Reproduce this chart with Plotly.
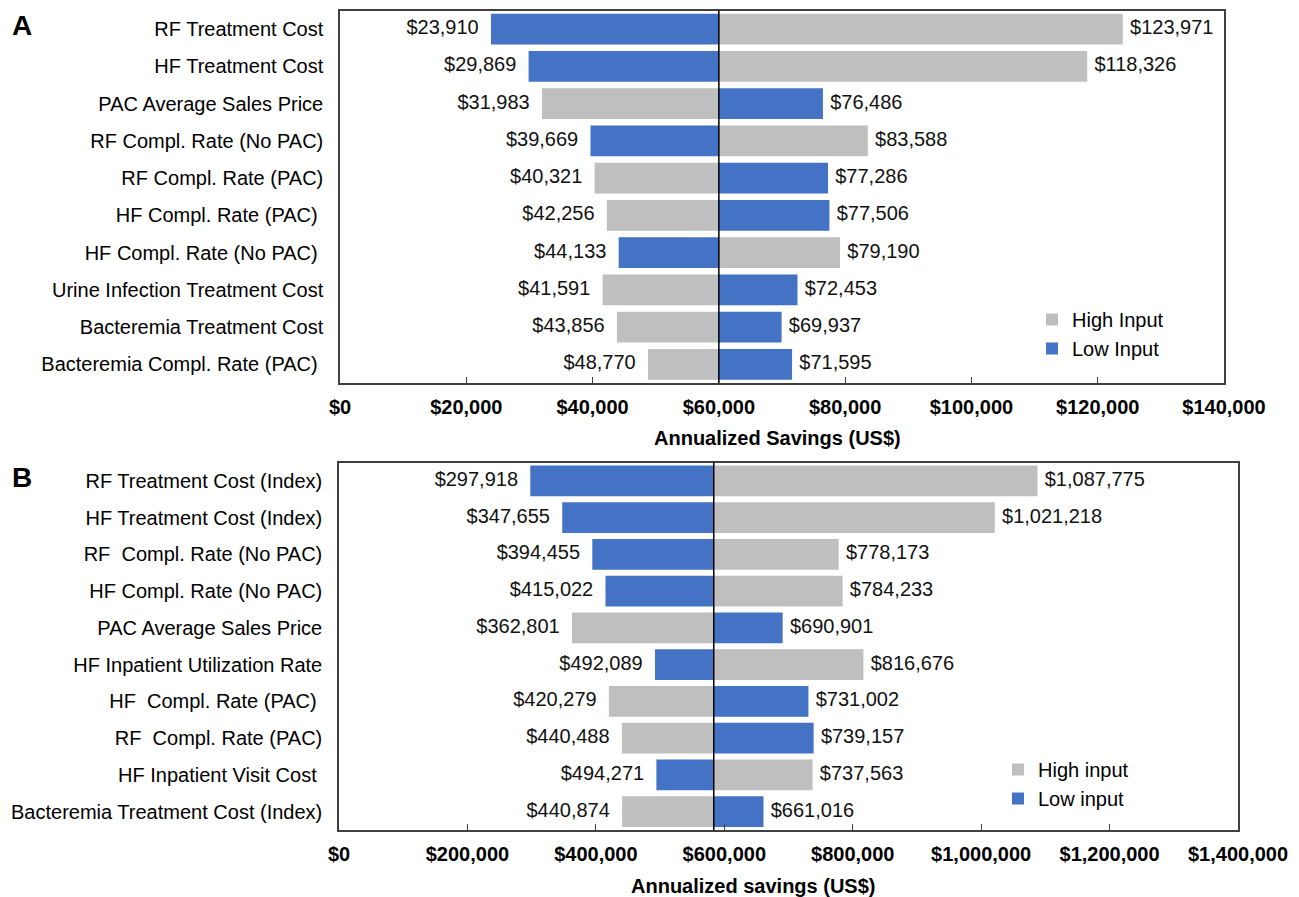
import plotly.graph_objects as go

# ---------------- Data ----------------
a_categories = ["RF Treatment Cost", "HF Treatment Cost", "PAC Average Sales Price",
                "RF Compl. Rate (No PAC)", "RF Compl. Rate (PAC)", "HF Compl. Rate (PAC) ",
                "HF Compl. Rate (No PAC) ", "Urine Infection Treatment Cost",
                "Bacteremia Treatment Cost", "Bacteremia Compl. Rate (PAC) "]
a_left = [23910, 29869, 31983, 39669, 40321, 42256, 44133, 41591, 43856, 48770]
a_right = [123971, 118326, 76486, 83588, 77286, 77506, 79190, 72453, 69937, 71595]
a_left_is_low = [True, True, False, True, False, False, True, False, False, False]
a_base = 60000

b_categories = ["RF Treatment Cost (Index)", "HF Treatment Cost (Index)", "RF  Compl. Rate (No PAC)",
                "HF Compl. Rate (No PAC)", "PAC Average Sales Price", "HF Inpatient Utilization Rate",
                "HF  Compl. Rate (PAC) ", "RF  Compl. Rate (PAC)", "HF Inpatient Visit Cost ",
                "Bacteremia Treatment Cost (Index)"]
b_left = [297918, 347655, 394455, 415022, 362801, 492089, 420279, 440488, 494271, 440874]
b_right = [1087775, 1021218, 778173, 784233, 690901, 816676, 731002, 739157, 737563, 661016]
b_left_is_low = [True, True, True, True, False, True, False, False, True, False]
b_base = 583600

a_ticks = [0, 20000, 40000, 60000, 80000, 100000, 120000, 140000]
b_ticks = [0, 200000, 400000, 600000, 800000, 1000000, 1200000, 1400000]

# ---------------- Style ----------------
W, H = 1299, 897
BLUE = "#4472C4"
GRAY = "#BFBFBF"
FONT = "Liberation Sans, Arial, sans-serif"
FS = 20

def px(x):
    return x / W

def py(y):
    return 1 - y / H

fig = go.Figure()

def add_panel(cats, left, right, left_is_low, base, xa, ya, legend, hi_name, lo_name):
    high = [r if l_low else l for l, r, l_low in zip(left, right, left_is_low)]
    low = [l if l_low else r for l, r, l_low in zip(left, right, left_is_low)]
    fig.add_trace(go.Bar(y=cats, x=[h - base for h in high], base=base, orientation="h",
                         marker=dict(color=GRAY, line=dict(width=0)), width=0.83,
                         name=hi_name, legend=legend, legendgroup=legend + "hi",
                         xaxis=xa, yaxis=ya, hoverinfo="skip"))
    fig.add_trace(go.Bar(y=cats, x=[lo - base for lo in low], base=base, orientation="h",
                         marker=dict(color=BLUE, line=dict(width=0)), width=0.83,
                         name=lo_name, legend=legend, legendgroup=legend + "lo",
                         xaxis=xa, yaxis=ya, hoverinfo="skip"))
    fig.add_trace(go.Scatter(y=cats, x=left, mode="markers+text",
                             text=[f"${v:,}" for v in left], textposition="middle left",
                             marker=dict(size=18, color="rgba(0,0,0,0)"),
                             textfont=dict(family=FONT, size=FS, color="#111111"),
                             showlegend=False, cliponaxis=False, hoverinfo="skip",
                             xaxis=xa, yaxis=ya))
    fig.add_trace(go.Scatter(y=cats, x=right, mode="markers+text",
                             text=[f"${v:,}" for v in right], textposition="middle right",
                             marker=dict(size=10, color="rgba(0,0,0,0)"),
                             textfont=dict(family=FONT, size=FS, color="#111111"),
                             showlegend=False, cliponaxis=False, hoverinfo="skip",
                             xaxis=xa, yaxis=ya))

add_panel(a_categories, a_left, a_right, a_left_is_low, a_base, "x", "y", "legend",
          "High Input", "Low Input")
add_panel(b_categories, b_left, b_right, b_left_is_low, b_base, "x2", "y2", "legend2",
          "High input", "Low input")

axis_line = dict(showline=True, linecolor="#404040", linewidth=1.5, mirror=True,
                 showgrid=False, zeroline=False, automargin=False)

def xaxis_cfg(domain, ticks, anchor):
    return dict(domain=domain, range=[ticks[0], ticks[-1]], tickvals=ticks,
                ticktext=[f"${t:,}" for t in ticks], ticks="inside", ticklen=6,
                tickcolor="#404040", tickwidth=1.2, ticklabelstandoff=5,
                tickfont=dict(family=FONT, size=FS, color="black", weight="bold"),
                anchor=anchor, **axis_line)

def yaxis_cfg(domain, cats, anchor):
    return dict(domain=domain, type="category", categoryorder="array",
                categoryarray=cats, range=[len(cats) - 0.5, -0.5], ticks="",
                ticklabelstandoff=11,
                tickfont=dict(family=FONT, size=FS, color="black"),
                anchor=anchor, **axis_line)

fig.update_layout(
    template="none",
    width=W, height=H,
    margin=dict(l=0, r=0, t=0, b=0, autoexpand=False),
    paper_bgcolor="white", plot_bgcolor="white",
    barmode="overlay", bargap=0.12,
    font=dict(family=FONT, size=FS, color="black"),
    xaxis=xaxis_cfg([px(340), px(1224)], a_ticks, "y"),
    yaxis=yaxis_cfg([py(383), py(10.5)], a_categories, "x"),
    xaxis2=xaxis_cfg([px(339), px(1238)], b_ticks, "y2"),
    yaxis2=yaxis_cfg([py(830), py(462.5)], b_categories, "x2"),
    legend=dict(x=px(1032), y=py(300), xanchor="left", yanchor="top",
                bgcolor="rgba(0,0,0,0)", font=dict(family=FONT, size=FS, color="black"),
                traceorder="normal", tracegroupgap=0),
    legend2=dict(x=px(998), y=py(750), xanchor="left", yanchor="top",
                 bgcolor="rgba(0,0,0,0)", font=dict(family=FONT, size=FS, color="black"),
                 traceorder="normal", tracegroupgap=0),
    shapes=[
        dict(type="line", xref="x", yref="y domain", x0=a_base, x1=a_base, y0=0, y1=1,
             line=dict(color="black", width=1.5)),
        dict(type="line", xref="x2", yref="y2 domain", x0=b_base, x1=b_base, y0=0, y1=1,
             line=dict(color="black", width=1.5)),
    ],
    annotations=[
        dict(text="<b>A</b>", x=px(22), y=py(25), xref="paper", yref="paper",
             xanchor="center", yanchor="middle",
             showarrow=False, font=dict(family=FONT, size=28, color="black")),
        dict(text="<b>B</b>", x=px(22), y=py(477), xref="paper", yref="paper",
             xanchor="center", yanchor="middle",
             showarrow=False, font=dict(family=FONT, size=28, color="black")),
        dict(text="<b>Annualized Savings (US$)</b>", x=px(777), y=py(438), xref="paper",
             yref="paper", xanchor="center", yanchor="middle",
             showarrow=False, font=dict(family=FONT, size=FS, color="black")),
        dict(text="<b>Annualized savings (US$)</b>", x=px(753), y=py(886), xref="paper",
             yref="paper", xanchor="center", yanchor="middle",
             showarrow=False, font=dict(family=FONT, size=FS, color="black")),
    ],
)

fig.write_html("out.html", config={"displayModeBar": False},
               post_script="document.body.style.margin='0';")
